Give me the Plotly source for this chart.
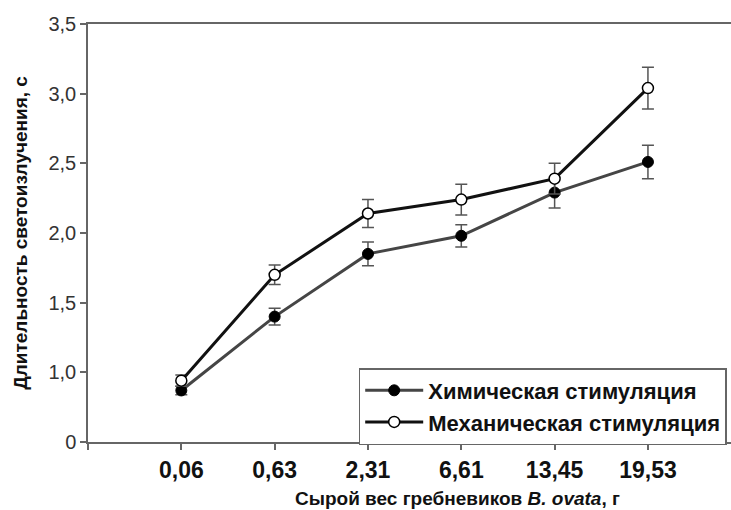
import plotly.graph_objects as go

categories = ["0,06", "0,63", "2,31", "6,61", "13,45", "19,53"]
chem_values = [0.87, 1.40, 1.85, 1.98, 2.29, 2.51]
chem_err = [0.03, 0.06, 0.085, 0.08, 0.11, 0.12]
mech_values = [0.94, 1.70, 2.14, 2.24, 2.39, 3.04]
mech_err = [0.04, 0.07, 0.10, 0.11, 0.11, 0.15]
y_tickvals = [0.5, 1.0, 1.5, 2.0, 2.5, 3.0, 3.5]
y_ticktext = ["0", "1,0", "1,5", "2,0", "2,5", "3,0", "3,5"]

xpos = list(range(1, len(categories) + 1))

FONT = "Liberation Sans, Arial"

fig = go.Figure()
fig.add_trace(go.Scatter(
    x=xpos, y=chem_values, mode="lines+markers", name="Химическая стимуляция",
    line=dict(color="#454545", width=3),
    marker=dict(size=11, color="black", line=dict(color="black", width=1)),
    error_y=dict(type="data", array=chem_err, color="#555555", thickness=1.5, width=6),
))
fig.add_trace(go.Scatter(
    x=xpos, y=mech_values, mode="lines+markers", name="Механическая стимуляция",
    line=dict(color="#111111", width=3),
    marker=dict(size=11, color="white", line=dict(color="black", width=1.5)),
    error_y=dict(type="data", array=mech_err, color="#555555", thickness=1.5, width=6),
))

fig.update_layout(
    width=731, height=510,
    margin=dict(l=88, r=0, t=24, b=68),
    paper_bgcolor="white", plot_bgcolor="white",
    font=dict(family=FONT, color="#111111"),
    showlegend=True,
    legend=dict(
        x=0.421, y=0.177, xanchor="left", yanchor="top",
        bordercolor="#666666", borderwidth=1.5, bgcolor="white",
        font=dict(size=22, color="#111111", family=FONT, weight="bold"),
        itemwidth=58, tracegroupgap=0,
    ),
)

fig.update_xaxes(
    range=[0, 6.89], tickvals=[0] + xpos, ticktext=[""] + categories,
    showline=True, linecolor="#666666", linewidth=1.5, mirror=True,
    ticks="outside", ticklen=6, tickwidth=1.5, tickcolor="#666666",
    showgrid=False, zeroline=False,
    tickfont=dict(size=23, color="#111111", family=FONT, weight="bold"),
    ticklabelstandoff=1,
)
fig.update_yaxes(
    range=[0.5, 3.5], tickvals=y_tickvals, ticktext=y_ticktext,
    showline=True, linecolor="#666666", linewidth=1.5,
    ticks="outside", ticklen=6, tickwidth=1.5, tickcolor="#666666",
    showgrid=False, zeroline=False,
    tickfont=dict(size=20, color="#333333", family=FONT),
)

fig.add_annotation(
    text="Длительность светоизлучения, с",
    xref="paper", yref="paper", x=-0.106, y=0.5, textangle=-90,
    xanchor="center", yanchor="middle", showarrow=False,
    font=dict(size=19, color="#111111", family=FONT, weight="bold"),
)
fig.add_annotation(
    text="Сырой вес гребневиков <i>B. ovata</i>, г",
    xref="paper", yref="paper", x=0.575, y=0, yshift=-56,
    xanchor="center", yanchor="middle", showarrow=False,
    font=dict(size=19, color="#111111", family=FONT, weight="bold"),
)

fig.write_html("out.html")
